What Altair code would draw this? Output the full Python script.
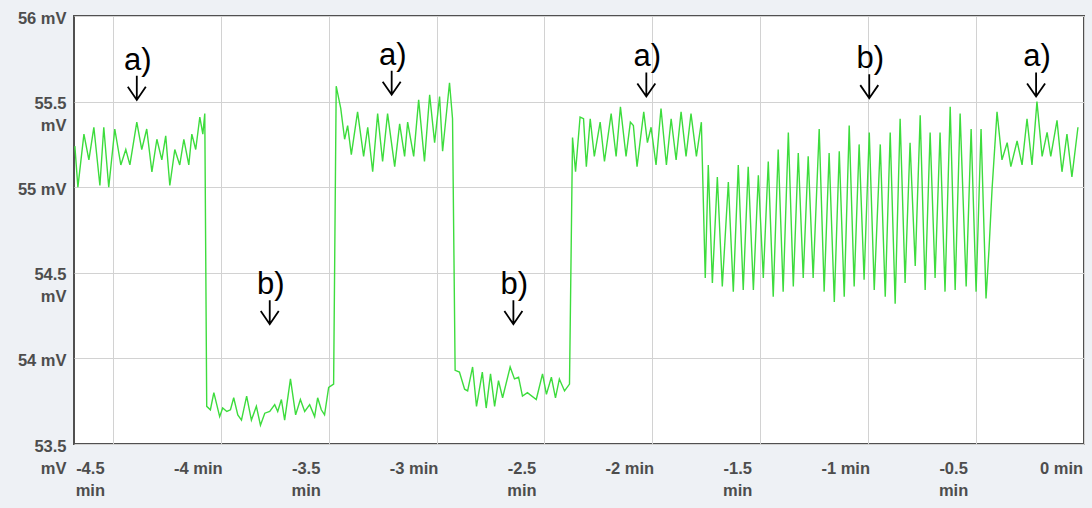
import altair as alt
import pandas as pd

# Membrane potential trace (time in minutes, potential in mV), by segment
t_a1 = [-4.676, -4.662, -4.634, -4.611, -4.588, -4.560, -4.542, -4.519, -4.491, -4.463,
        -4.440, -4.421, -4.389, -4.366, -4.343, -4.319, -4.296, -4.273, -4.255, -4.236,
        -4.213, -4.190, -4.171, -4.148, -4.134, -4.116, -4.097, -4.083, -4.074]
v_a1 = [55.24, 55.00, 55.31, 55.16, 55.35, 55.01, 55.35, 55.00, 55.34, 55.13,
        55.22, 55.13, 55.38, 55.22, 55.34, 55.09, 55.28, 55.16, 55.30, 55.01,
        55.22, 55.13, 55.28, 55.13, 55.31, 55.22, 55.41, 55.31, 55.43]

t_b1 = [-4.065, -4.048, -4.032, -4.005, -3.991, -3.972, -3.955, -3.940, -3.921, -3.904,
        -3.880, -3.858, -3.835, -3.816, -3.796, -3.773, -3.750, -3.736, -3.719, -3.704,
        -3.677, -3.653, -3.631, -3.611, -3.588, -3.565, -3.551, -3.534, -3.519, -3.500,
        -3.477]
v_b1 = [53.72, 53.70, 53.80, 53.66, 53.71, 53.69, 53.70, 53.77, 53.67, 53.64,
        53.78, 53.64, 53.72, 53.61, 53.68, 53.69, 53.73, 53.69, 53.76, 53.64,
        53.88, 53.67, 53.76, 53.69, 53.73, 53.66, 53.77, 53.70, 53.67, 53.83,
        53.85]

t_a2 = [-3.465, -3.444, -3.426, -3.412, -3.395, -3.366, -3.338, -3.319, -3.296, -3.273,
        -3.250, -3.227, -3.194, -3.171, -3.148, -3.134, -3.106, -3.083, -3.056, -3.032,
        -3.009, -2.986, -2.972, -2.940, -2.926]
v_a2 = [55.59, 55.46, 55.28, 55.36, 55.19, 55.44, 55.18, 55.35, 55.09, 55.43,
        55.15, 55.43, 55.12, 55.37, 55.18, 55.38, 55.18, 55.51, 55.15, 55.54,
        55.26, 55.53, 55.21, 55.61, 55.40]

t_b2 = [-2.914, -2.894, -2.870, -2.856, -2.833, -2.815, -2.788, -2.770, -2.750, -2.731,
        -2.713, -2.694, -2.659, -2.639, -2.620, -2.602, -2.579, -2.538, -2.509, -2.491,
        -2.468, -2.449, -2.431, -2.407, -2.384]
v_b2 = [53.93, 53.92, 53.82, 53.81, 53.95, 53.72, 53.92, 53.71, 53.91, 53.72,
        53.87, 53.77, 53.95, 53.88, 53.89, 53.78, 53.80, 53.76, 53.91, 53.79,
        53.89, 53.77, 53.88, 53.81, 53.85]

t_a3 = [-2.370, -2.356, -2.335, -2.319, -2.306, -2.288, -2.269, -2.242, -2.222, -2.191,
        -2.168, -2.148, -2.122, -2.102, -2.088, -2.071, -2.040, -2.023, -2.006, -1.983,
        -1.960, -1.935, -1.913, -1.890, -1.867, -1.844, -1.821, -1.796, -1.773]
v_a3 = [55.29, 55.09, 55.41, 55.40, 55.12, 55.40, 55.18, 55.38, 55.15, 55.43,
        55.18, 55.47, 55.18, 55.38, 55.36, 55.12, 55.44, 55.26, 55.35, 55.13,
        55.46, 55.13, 55.40, 55.16, 55.44, 55.18, 55.43, 55.18, 55.38]

t_b3 = [-1.755, -1.741, -1.722, -1.699, -1.676, -1.648, -1.625, -1.602, -1.579, -1.556,
        -1.532, -1.509, -1.486, -1.463, -1.440, -1.417, -1.394, -1.370, -1.347, -1.324,
        -1.301, -1.278, -1.255, -1.227, -1.204, -1.181, -1.157, -1.134, -1.111, -1.088,
        -1.065, -1.042, -1.019, -0.995, -0.972, -0.944, -0.921, -0.898, -0.875, -0.852,
        -0.829, -0.806, -0.782, -0.759, -0.736, -0.713, -0.690, -0.667, -0.644, -0.620,
        -0.597, -0.574, -0.546, -0.523, -0.500, -0.477, -0.454, -0.440, -0.426]
v_b3 = [54.47, 55.13, 54.44, 55.06, 54.42, 55.03, 54.39, 55.13, 54.40, 55.12,
        54.40, 55.07, 54.47, 55.15, 54.36, 55.22, 54.39, 55.32, 54.42, 55.20,
        54.47, 55.18, 54.47, 55.34, 54.39, 55.20, 54.33, 55.21, 54.36, 55.36,
        54.42, 55.25, 54.46, 55.32, 54.40, 55.25, 54.36, 55.32, 54.32, 55.40,
        54.44, 55.26, 54.54, 55.42, 54.40, 55.32, 54.47, 55.32, 54.39, 55.47,
        54.40, 55.43, 54.42, 55.34, 54.39, 55.34, 54.35, 54.64, 54.99]

t_a4 = [-0.403, -0.380, -0.356, -0.339, -0.310, -0.287, -0.264, -0.241, -0.218, -0.194,
        -0.171, -0.154, -0.125, -0.102, -0.079, -0.056, -0.028]
v_a4 = [55.44, 55.16, 55.26, 55.12, 55.27, 55.13, 55.40, 55.13, 55.50, 55.18,
        55.32, 55.18, 55.39, 55.09, 55.31, 55.06, 55.35]

# Annotations: label, time (min) and potential (mV) the arrow points at
ann_text = ["a)", "b)", "a)", "b)", "a)", "b)", "a)"]
ann_t = [-4.389, -3.773, -3.208, -2.644, -2.028, -0.995, -0.222]
ann_v = [55.51, 54.20, 55.54, 54.20, 55.53, 55.52, 55.53]

x_ticks = [-4.5, -4.0, -3.5, -3.0, -2.5, -2.0, -1.5, -1.0, -0.5, 0.0]
y_ticks = [53.5, 54.0, 54.5, 55.0, 55.5, 56.0]

times = t_a1 + t_b1 + t_a2 + t_b2 + t_a3 + t_b3 + t_a4
volts = v_a1 + v_b1 + v_a2 + v_b2 + v_a3 + v_b3 + v_a4
trace = pd.DataFrame({"t": times, "v": volts, "i": range(len(times))})
ann = pd.DataFrame({"label": ann_text, "t": ann_t, "v": ann_v})

label_font = "Liberation Sans"
label_color = "#4d4d4d"
grid_color = "#d2d2d2"

x_scale = alt.Scale(domain=[-4.68, 0.0], nice=False, zero=False)
y_scale = alt.Scale(domain=[53.5, 56.0], nice=False, zero=False)

# Whole values on one line, half values wrapped onto two lines
x_axis = alt.Axis(
    values=x_ticks,
    labelExpr="(datum.value % 1 == 0) ? (datum.value + ' min') : ['' + datum.value, 'min']",
    title=None, grid=True, gridColor=grid_color, gridWidth=1,
    ticks=False, tickSize=0, domain=False,
    labelFont=label_font, labelFontSize=16.5, labelFontWeight="bold", labelColor=label_color,
    labelAlign="center", labelBaseline="top", labelOffset=-23, labelPadding=16,
    labelLineHeight=22, labelFlush=False, labelOverlap=False, labelBound=False,
)
y_axis = alt.Axis(
    values=y_ticks,
    labelExpr="(datum.value % 1 == 0) ? (datum.value + ' mV') : ['' + datum.value, 'mV']",
    title=None, grid=True, gridColor=grid_color, gridWidth=1,
    ticks=False, tickSize=0, domain=False,
    labelFont=label_font, labelFontSize=16.5, labelFontWeight="bold", labelColor=label_color,
    labelAlign="right", labelBaseline="top", labelOffset=-6, labelPadding=8,
    labelLineHeight=22, labelFlush=False, labelOverlap=False, labelBound=False,
)

line = alt.Chart(trace).mark_line(color="#3ddc3d", strokeWidth=1.4, clip=True).encode(
    x=alt.X("t:Q", scale=x_scale, axis=x_axis),
    y=alt.Y("v:Q", scale=y_scale, axis=y_axis),
    order="i:Q",
)

# Down arrow: shaft plus open head, tip at the anchor point
arrow_shape = "M0,0L0,-2.67M-1,-1.45L0,0L1,-1.45"
arrows = alt.Chart(ann).mark_point(
    shape=arrow_shape, filled=False, size=324, stroke="black", strokeWidth=1.8, opacity=1
).encode(x=alt.X("t:Q", scale=x_scale), y=alt.Y("v:Q", scale=y_scale))

labels = alt.Chart(ann).mark_text(
    font=label_font, fontSize=31, color="black", align="center",
    baseline="alphabetic", dy=-30, dx=1
).encode(x=alt.X("t:Q", scale=x_scale), y=alt.Y("v:Q", scale=y_scale), text="label:N")

chart = alt.layer(line, arrows, labels).properties(
    width=1010, height=428,
    padding={"left": 74, "top": 16, "right": 8, "bottom": 64},
    autosize=alt.AutoSizeParams(type="none"),
    background="#eef1f5",
).configure_view(fill="white", stroke="#505050", strokeWidth=2)

chart.save("out.html", embed_options={"renderer": "svg", "actions": False})
